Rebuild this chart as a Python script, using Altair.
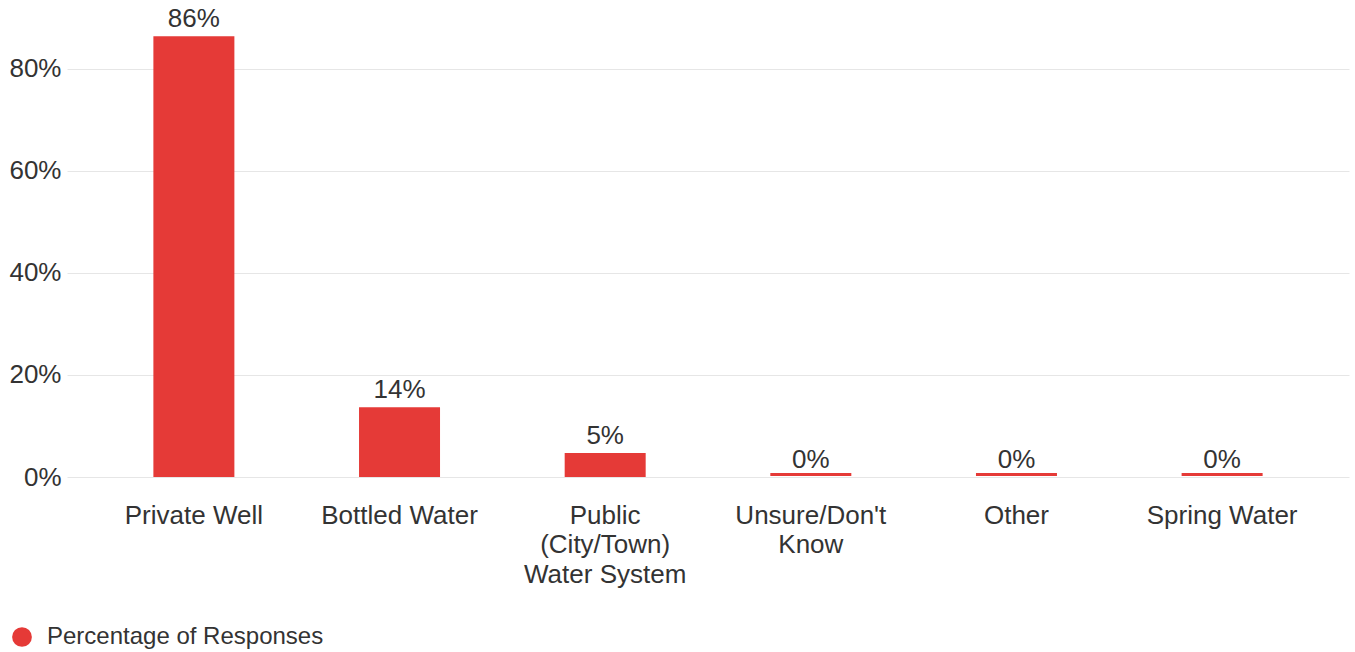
import altair as alt
import pandas as pd

categories = ["Private Well", "Bottled Water", "Public\n(City/Town)\nWater System",
              "Unsure/Don't\nKnow", "Other", "Spring Water"]
values = [86.4, 13.7, 4.7, 0, 0, 0]
series = "Percentage of Responses"
y_ticks = [0, 20, 40, 60, 80]

df = pd.DataFrame({"category": categories, "value": values, "series": [series] * len(categories)})

RED = "#e53a37"
TXT = "#333333"
FONT = "Liberation Sans"

x_enc = alt.X("category:N", sort=categories, title=None,
              scale=alt.Scale(paddingInner=0.606, paddingOuter=0.42),
              axis=alt.Axis(labelAngle=0, labelFontSize=26, labelColor=TXT, labelFont=FONT,
                            ticks=False, domain=False, labelPadding=25,
                            labelExpr="split(datum.label, '\\n')", labelLineHeight=29.5,
                            labelBaseline="top"))
y_enc = alt.Y("value:Q", title=None,
              scale=alt.Scale(domain=[0, 86.47], nice=False),
              axis=alt.Axis(values=y_ticks, labelExpr="datum.value + '%'", labelFontSize=26,
                            labelColor=TXT, labelFont=FONT, ticks=False, domain=False,
                            labelPadding=6, gridColor="#e6e6e6", gridWidth=1))

color_enc = alt.Color("series:N", title=None,
                      scale=alt.Scale(domain=[series], range=[RED]),
                      legend=alt.Legend(orient="none", legendX=-57, legendY=589,
                                        symbolType="circle", symbolSize=390,
                                        symbolStrokeWidth=0, symbolOpacity=1, labelFontSize=24,
                                        labelFont=FONT, labelColor=TXT, labelOffset=13,
                                        labelLimit=600))

base = alt.Chart(df)

bars = base.mark_bar(size=81, opacity=1).encode(x=x_enc, y=y_enc, color=color_enc)

zero_ticks = base.transform_filter("datum.value == 0").mark_tick(
    thickness=3, size=81, color=RED, opacity=1, yOffset=-2.5
).encode(x=alt.X("category:N", sort=categories), y="value:Q")

labels = base.transform_calculate(lbl="format(datum.value, '.0f') + '%'").mark_text(
    baseline="alphabetic", dy=-9, fontSize=26, font=FONT, color=TXT
).encode(x=alt.X("category:N", sort=categories), y="value:Q", text="lbl:N")

chart = alt.layer(bars, zero_ticks, labels).properties(
    width=1282, height=441,
    padding={"left": 67, "top": 36, "right": 6, "bottom": 175},
    autosize=alt.AutoSizeParams(type="none"),
    background="white"
).configure_view(stroke=None)

chart.save("out.html", embed_options={"renderer": "svg", "actions": False})
